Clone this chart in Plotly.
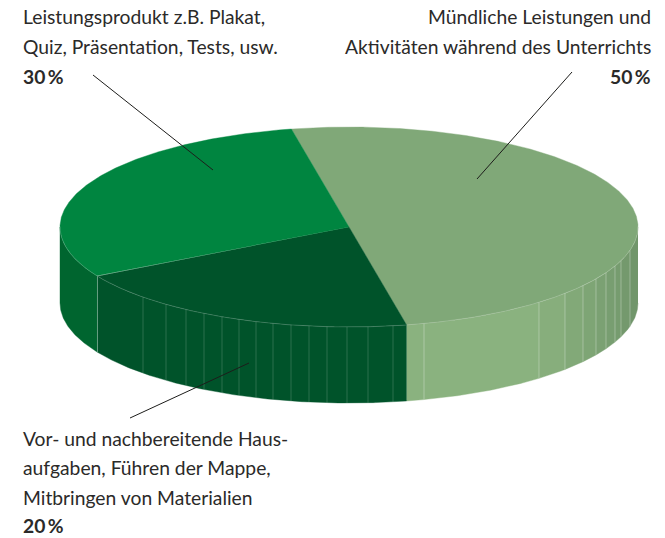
import numpy as np
import plotly.graph_objects as go

categories = ["Mündliche Leistungen und Aktivitäten während des Unterrichts",
              "Vor- und nachbereitende Hausaufgaben, Führen der Mappe, Mitbringen von Materialien",
              "Leistungsprodukt z.B. Plakat, Quiz, Präsentation, Tests, usw."]
shares = [50, 20, 30]
top_colors = ["#80a878", "#00532a", "#008540"]
side_colors = ["#8ab27f", "#00532a", "#00652f"]
side_shade_end = "#70956a"

W, H = 665, 538
CX, CY, RX, RY, DEPTH = 349, 227, 289, 100, 76
START = -11.5
FONT = "Lato"
INK = "#2b2a29"
SIZE = 19.3

# facet seams on the wall, as screen x
seams = [143, 166, 186, 204, 222, 239, 256, 273, 291, 309, 327, 347, 368, 393,
         424, 539, 565, 583, 596, 606, 615, 621, 630]

labels = [
    (21, 16, "Leistungsprodukt z.B. Plakat,", "left", False),
    (21, 46, "Quiz, Präsentation, Tests, usw.", "left", False),
    (21, 76, "30\u2009%", "left", True),
    (653, 16, "Mündliche Leistungen und", "right", False),
    (653, 46, "Aktivitäten während des Unterrichts", "right", False),
    (653, 76, "50\u2009%", "right", True),
    (21, 438, "Vor- und nachbereitende Haus-", "left", False),
    (21, 467, "aufgaben, Führen der Mappe,", "left", False),
    (21, 497, "Mitbringen von Materialien", "left", False),
    (21, 525, "20\u2009%", "left", True),
]
leaders = [((93, 75), (213, 170)), ((572, 72), (477, 179)), ((130, 418), (249, 363))]


def ell(deg, drop=0.0):
    t = np.radians(deg)
    return CX + RX * np.sin(t), CY - RY * np.cos(t) + drop


def arc(a, b):
    return np.linspace(a, b, max(2, int(abs(b - a)) * 3 + 2))


def poly(xs, ys, color):
    fig.add_trace(go.Scatter(x=list(xs), y=list(ys), mode="lines", fill="toself",
                             fillcolor=color, line=dict(color=color, width=0.4),
                             hoverinfo="skip", showlegend=False))


def line(xs, ys, color, width=1):
    fig.add_trace(go.Scatter(x=list(xs), y=list(ys), mode="lines",
                             line=dict(color=color, width=width),
                             hoverinfo="skip", showlegend=False))


def mix(c1, c2, f):
    a = [int(c1[i:i + 2], 16) for i in (1, 3, 5)]
    b = [int(c2[i:i + 2], 16) for i in (1, 3, 5)]
    return "rgb(%d,%d,%d)" % tuple(round(p + (q - p) * f) for p, q in zip(a, b))


def seam_angle(sx):
    return 180 - np.degrees(np.arcsin((sx - CX) / RX))


def wall(lo, hi, color):
    ts = arc(lo, hi)
    xt, yt = ell(ts)
    xb, yb = ell(ts[::-1], DEPTH)
    poly(np.r_[xt, xb], np.r_[yt, yb], color)


fig = go.Figure()

# slice angle ranges from the shares
edges = START + np.cumsum([0] + shares) * 3.6
ranges = list(zip(edges[:-1], edges[1:]))

# walls (front half only: 90..270 degrees)
for i, (a, b) in enumerate(ranges):
    lo, hi = max(a, 90), min(b, 270)
    if lo >= hi:
        continue
    if i == 0:
        # light slice darkens, facet by facet, toward the right rim
        inner = sorted(seam_angle(sx) for sx in seams if sx > CX and lo < seam_angle(sx) < hi)
        stops = [lo] + inner + [hi]
        for s0, s1 in zip(stops[:-1], stops[1:]):
            x_mid = ell((s0 + s1) / 2)[0]
            f = max(0.0, (x_mid - 530) / (638 - 530)) ** 1.3
            wall(s0, s1, mix(side_colors[0], side_shade_end, f))
    else:
        wall(lo, hi, side_colors[i])

# top faces
for (a, b), c in zip(ranges, top_colors):
    xa, ya = ell(arc(a, b))
    poly(np.r_[CX, xa, CX], np.r_[CY, ya, CY], c)

# wall seams
for sx in seams:
    d = seam_angle(sx) if sx > CX else 180 + np.degrees(np.arcsin((CX - sx) / RX))
    xt, yt = ell(d)
    line([sx, sx], [yt, yt + DEPTH],
         "rgba(255,255,255,0.17)" if sx < 407 else "rgba(255,255,255,0.30)", 1)

# slice border on the wall
xt, yt = ell(edges[2])
line([xt, xt], [yt, yt + DEPTH], "rgba(255,255,255,0.30)", 1)

# pale rim along the front
xr, yr = ell(arc(90, 270))
line(xr, yr, "rgba(255,255,255,0.22)", 0.8)

# leaders
for p, q in leaders:
    line([p[0], q[0]], [p[1], q[1]], "#1d1d1b", 1)

for x, y, text, anchor, bold in labels:
    fig.add_annotation(x=x, y=y, text=f"<b>{text}</b>" if bold else text, showarrow=False,
                       xanchor=anchor, yanchor="middle", xref="x", yref="y",
                       font=dict(family=FONT, size=SIZE, color=INK))

fig.update_layout(width=W, height=H, margin=dict(l=0, r=0, t=0, b=0),
                  paper_bgcolor="white", plot_bgcolor="white", showlegend=False,
                  xaxis=dict(range=[0, W], visible=False, fixedrange=True),
                  yaxis=dict(range=[H, 0], visible=False, fixedrange=True))
fig.write_html("out.html", config=dict(displayModeBar=False),
               post_script="document.body.style.margin='0';document.body.style.overflow='hidden';")
